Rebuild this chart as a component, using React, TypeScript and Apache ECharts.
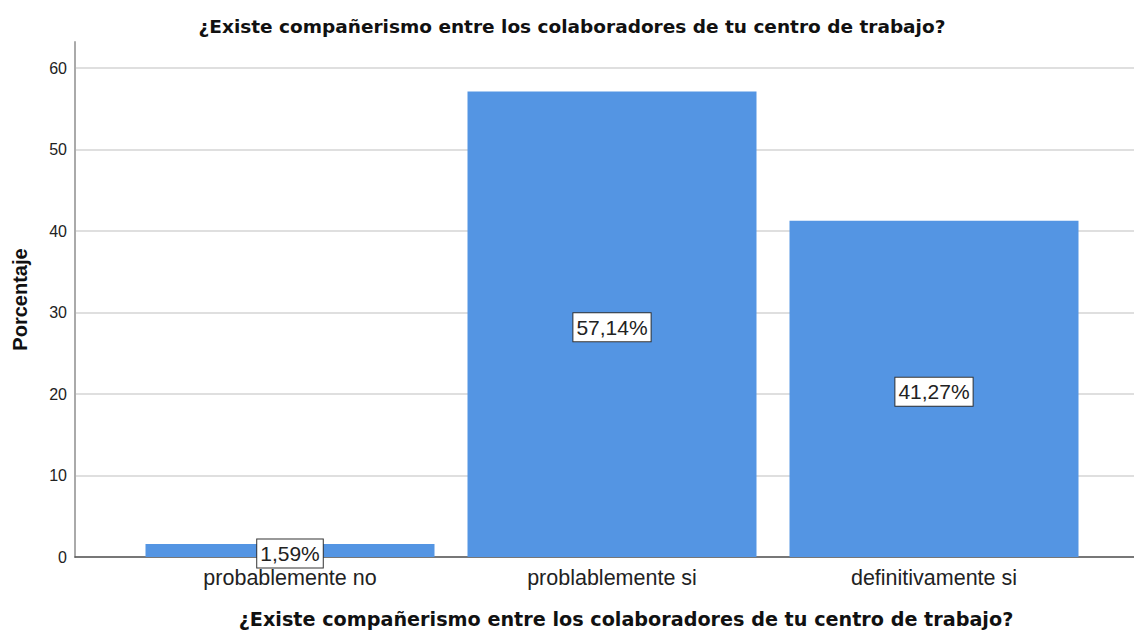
import React, { useEffect, useRef } from "react";
import * as echarts from "echarts";

const categories = ["probablemente no", "problablemente si", "definitivamente si"];
const percentages = [1.59, 57.14, 41.27];
const yTicksMax = 63.2;
const chartTitle = "¿Existe compañerismo entre los colaboradores de tu centro de trabajo?";
const yName = "Porcentaje";

const FONT = "'Liberation Sans', Arial, Helvetica, sans-serif";
const TITLE_FONT = "'DejaVu Sans', 'Liberation Sans', Arial, sans-serif";

export default function App() {
  const ref = useRef<HTMLDivElement>(null);
  useEffect(() => {
    if (!ref.current) return;
    const chart = echarts.init(ref.current, null, { renderer: "svg" });
    chart.setOption({
      animation: false,
      backgroundColor: "#ffffff",
      textStyle: { fontFamily: FONT },
      title: [
        {
          text: chartTitle,
          left: 572,
          top: 17,
          padding: 0,
          textAlign: "center",
          textStyle: { fontFamily: TITLE_FONT, fontSize: 18.5, fontWeight: "bold", color: "#111" },
        },
        {
          text: chartTitle,
          left: 626,
          top: 610,
          padding: 0,
          textAlign: "center",
          textStyle: { fontFamily: TITLE_FONT, fontSize: 19.2, fontWeight: "bold", color: "#111" },
        },
      ],
      grid: [
        { left: 75, right: 0, top: 42, bottom: 73 },
        { left: 129, right: 39, top: 42, bottom: 73 },
      ],
      xAxis: [
        {
          type: "value",
          gridIndex: 0,
          min: 0,
          max: 1,
          axisLine: { show: true, onZero: false, lineStyle: { color: "#555", width: 1.5 } },
          axisTick: { show: false },
          axisLabel: { show: false },
          splitLine: { show: false },
        },
        {
          type: "category",
          gridIndex: 1,
          data: categories,
          axisLine: { show: false },
          axisTick: { show: false },
          axisLabel: { fontSize: 21.5, color: "#222", margin: 10, fontFamily: FONT },
        },
      ],
      yAxis: [
        {
          type: "value",
          gridIndex: 0,
          min: 0,
          max: yTicksMax,
          interval: 10,
          name: yName,
          nameLocation: "middle",
          nameGap: 45,
          nameRotate: 90,
          nameTextStyle: { fontFamily: FONT, fontSize: 20, fontWeight: "bold", color: "#111" },
          axisLine: { show: true, lineStyle: { color: "#aaa", width: 2 } },
          axisTick: { show: false },
          axisLabel: { fontSize: 16, color: "#222", margin: 8, showMaxLabel: false, fontFamily: FONT },
          splitLine: { show: true, showMaxLine: false, lineStyle: { color: "#d4d4d4", width: 1.5 } },
        },
        {
          type: "value",
          gridIndex: 1,
          min: 0,
          max: yTicksMax,
          show: false,
          splitLine: { show: false },
        },
      ],
      series: [
        {
          type: "bar",
          xAxisIndex: 1,
          yAxisIndex: 1,
          data: percentages,
          barWidth: 289,
          itemStyle: { color: "#5495e3" },
          label: {
            show: true,
            position: "inside",
            offset: [0, 3],
            formatter: (p: any) => p.value.toFixed(2).replace(".", ",") + "%",
            fontFamily: FONT,
            fontSize: 21,
            color: "#222",
            backgroundColor: "#ffffff",
            borderColor: "#333",
            borderWidth: 1,
            padding: [4, 3, 3, 3],
          },
        },
      ],
    });
    return () => chart.dispose();
  }, []);
  return (
    <div
      ref={ref}
      style={{ position: "fixed", left: 0, top: 0, width: 1134, height: 630, background: "#fff" }}
    />
  );
}
